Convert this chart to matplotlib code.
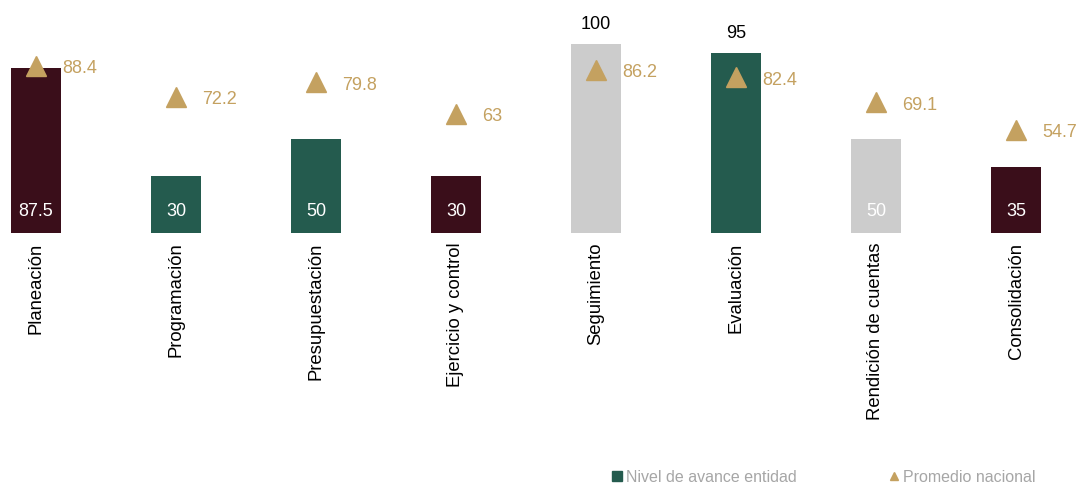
import matplotlib.pyplot as plt
from matplotlib.lines import Line2D

plt.rcParams['font.family'] = ['Liberation Sans', 'DejaVu Sans']

categories = ["Planeación", "Programación", "Presupuestación", "Ejercicio y control",
              "Seguimiento", "Evaluación", "Rendición de cuentas", "Consolidación"]
avance = [87.5, 30, 50, 30, 100, 95, 50, 35]
promedio = [88.4, 72.2, 79.8, 63, 86.2, 82.4, 69.1, 54.7]
avance_labels = ["87.5", "30", "50", "30", "100", "95", "50", "35"]
promedio_labels = ["88.4", "72.2", "79.8", "63", "86.2", "82.4", "69.1", "54.7"]

MAROON = "#3a0e1a"
GREEN = "#245b4e"
GRAY = "#cccccc"
GOLD = "#c4a160"
bar_colors = [MAROON, GREEN, GREEN, MAROON, GRAY, GREEN, GRAY, MAROON]

W, H = 1078, 483
fig = plt.figure(figsize=(W / 100, H / 100), dpi=100)
ax = fig.add_axes([0, 1 - 233 / H, 1, 233 / H])

x = list(range(len(categories)))
ax.bar(x, avance, width=0.357, color=bar_colors, zorder=1)
ax.plot(x, promedio, linestyle='none', marker='^', markersize=14,
        color=GOLD, zorder=2)

for i, v in enumerate(avance):
    if v >= 90:
        ax.text(i, v + 6, avance_labels[i], ha='center', va='bottom',
                fontsize=13, color='black')
    else:
        ax.text(i, 11.5, avance_labels[i], ha='center', va='center',
                fontsize=13, color='white')
    ax.text(i + 0.185, promedio[i] - 1.5, promedio_labels[i], ha='left',
            va='center', fontsize=13, color=GOLD)

ax.set_xlim(-36 / 140, (W - 36) / 140)
ax.set_ylim(0, 233 / 189 * 100)
ax.set_xticks(x)
ax.set_xticklabels(categories, rotation=90, fontsize=13.3)
ax.tick_params(axis='x', length=0, pad=7)
ax.set_yticks([])
for s in ax.spines.values():
    s.set_visible(False)
ax.patch.set_alpha(0)

handles = [
    Line2D([], [], linestyle='none', marker='s', markersize=7, color=GREEN),
    Line2D([], [], linestyle='none', marker='^', markersize=6, color=GOLD),
]
fig.legend(handles, ["Nivel de avance entidad", "Promedio nacional"],
           loc='center', bbox_to_anchor=(822 / W, 1 - 477 / H), ncol=2,
           frameon=False, fontsize=11.5, labelcolor='#a6a6a6',
           handletextpad=0.05, columnspacing=5.6, handlelength=1.0)

fig.savefig("out.png", dpi=100)
